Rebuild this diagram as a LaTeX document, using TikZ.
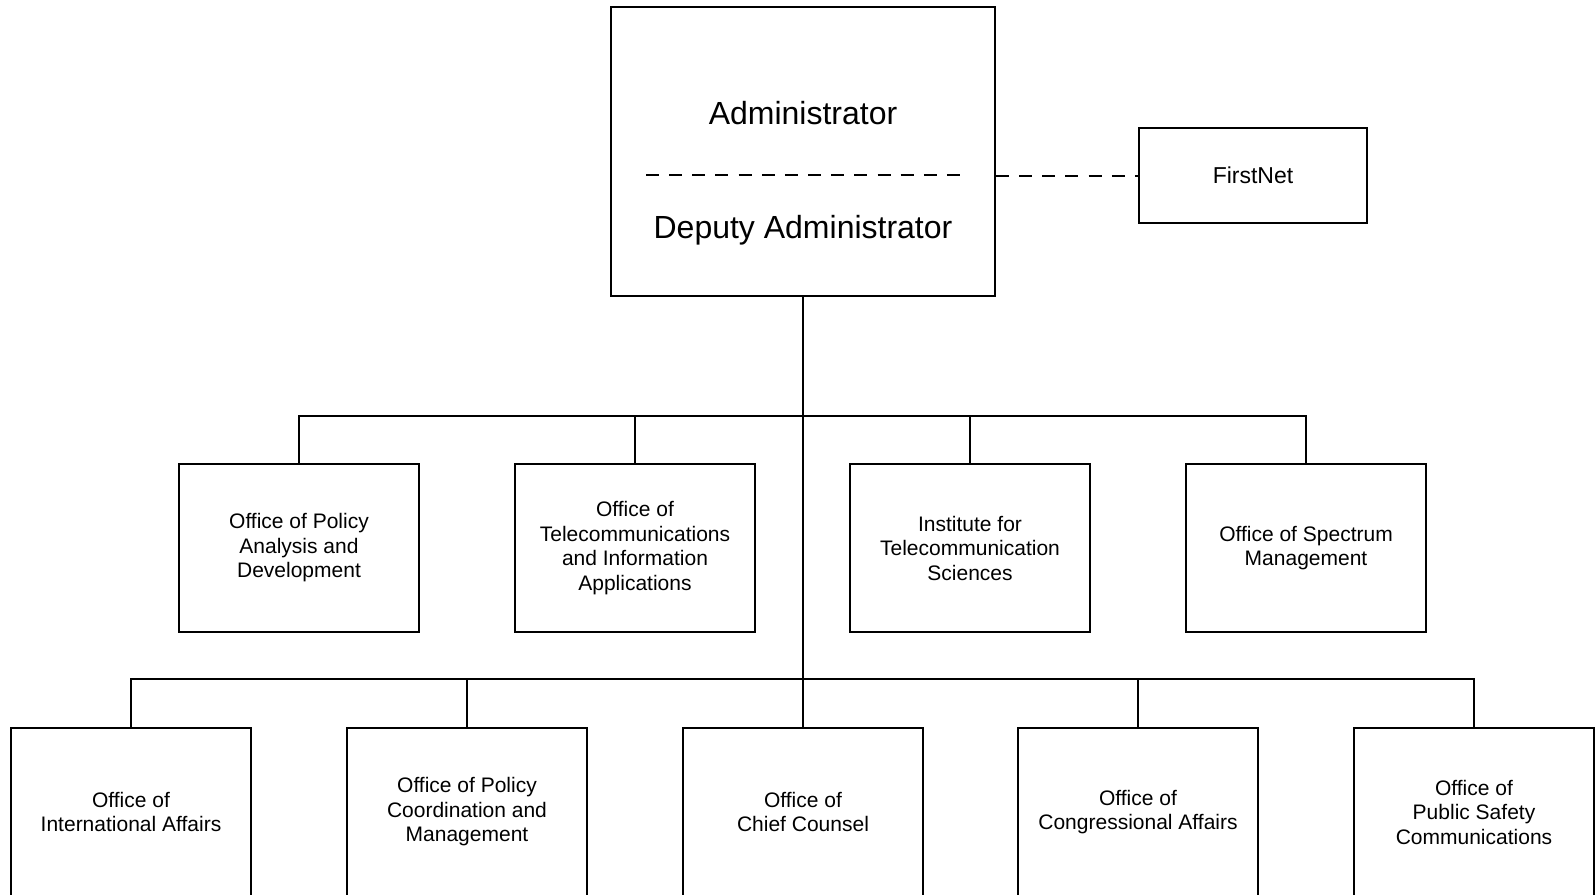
\documentclass[tikz,border=0pt]{standalone}
\usepackage{fontspec}
\setmainfont{Liberation Sans}
\usepackage{tikz}
\usetikzlibrary{positioning}

\begin{document}
\begin{tikzpicture}[
  x=1pt, y=-1pt, line width=2pt,
  office/.style={draw,minimum width=240pt,minimum height=168pt,align=center,
    font=\fontsize{21}{24.5}\selectfont},
  headtext/.style={font=\fontsize{32}{36}\selectfont},
  dashline/.style={dashed,dash pattern=on 13pt off 10.15pt}
]
\useasboundingbox (0,0) rectangle (1595,894);
\clip (0,0) rectangle (1595,894);

% Administrator box
\node[draw,minimum width=384pt,minimum height=289pt] (admin) at (803,151.5) {};
\node[headtext] (adm) at (803,113) {Administrator};
\node[headtext] (dep) at (803,230) {Deputy Administrator};
\coordinate (sepl) at (646,175);
\coordinate (sepr) at (960,175);
\draw[dashline] (sepl) -- (sepr);

% FirstNet
\node[draw,minimum width=228pt,minimum height=95pt,font=\fontsize{23}{26}\selectfont]
  (firstnet) at (1253,175.5) {FirstNet};
\draw[dashline] (admin.east |- firstnet.west) -- (firstnet.west);

% Middle row
\node[office] (opad) at (299,548) {Office of Policy\\Analysis and\\Development};
\node[office] (ntia) at (635,548) {Office of\\Telecommunications\\and Information\\Applications};
\node[office] (its) at (970,548) {Institute for\\Telecommunication\\Sciences};
\node[office] (osm) at (1306,548) {Office of Spectrum\\Management};

% Bottom row
\node[office] (oia) at (131,812) {Office of\\International Affairs};
\node[office] (opcm) at (467,812) {Office of Policy\\Coordination and\\Management};
\node[office] (occ) at (803,812) {Office of\\Chief Counsel};
\node[office] (oca) at (1138,812) {Office of\\Congressional Affairs};
\node[office] (opsc) at (1474,812) {Office of\\Public Safety\\Communications};

% Connectors
\coordinate (hubmid) at (803,416);
\coordinate (hublow) at (803,679);
\draw (admin.south) -- (occ.north);
\foreach \n in {opad,ntia,its,osm}
  \draw (hubmid) -| (\n.north);
\foreach \n in {oia,opcm,oca,opsc}
  \draw (hublow) -| (\n.north);

\end{tikzpicture}
\end{document}
